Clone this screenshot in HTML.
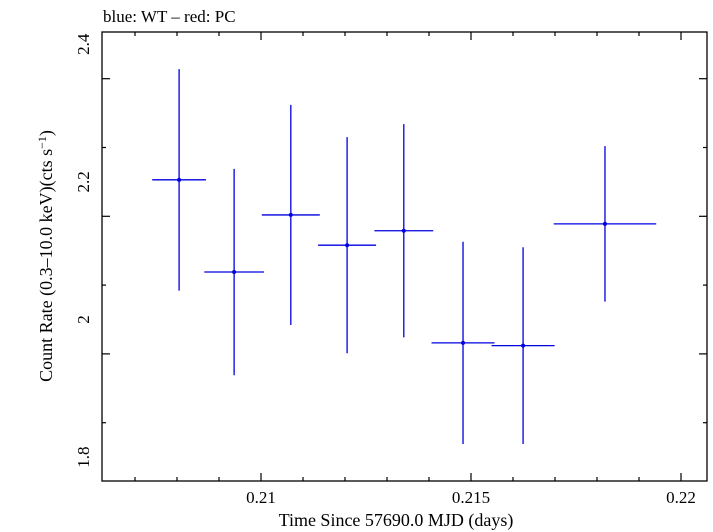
<!DOCTYPE html>
<html><head><meta charset="utf-8"><style>
body{margin:0;background:#fff;}
svg{display:block;font-family:"Liberation Serif",serif;}
</style></head><body>
<svg id="c" width="713" height="532">
<text x="103" y="22" font-size="17">blue: WT – red: PC</text>
<rect x="102" y="32" width="605" height="449" fill="none" stroke="#000" stroke-width="1.3"/>
<g id="ax"></g><g id="pts"></g>
<text x="396" y="526" font-size="18" text-anchor="middle">Time Since 57690.0 MJD (days)</text>
<text transform="translate(52,256) rotate(-90)" font-size="18" text-anchor="middle">Count Rate (0.3–10.0 keV)(cts s<tspan dy="-6" font-size="12">−1</tspan><tspan dy="6">)</tspan></text>
</svg>
<script>
const times=[0.20805,0.20936,0.21071,0.21205,0.2134,0.21481,0.21624,0.21819];
const halfWidths=[0.00064,0.00071,0.00069,0.00069,0.0007,0.00075,0.00075,0.00122];
const rates=[2.203,2.069,2.152,2.108,2.129,1.966,1.962,2.139];
const rateErrs=[0.161,0.150,0.160,0.157,0.155,0.147,0.143,0.113];
const xTicks=[0.21,0.215,0.22];
const xTickLabels=["0.21","0.215","0.22"];
const yTicks=[1.8,2,2.2,2.4];
const yTickLabels=["1.8","2","2.2","2.4"];
const L=102,R=707,T=32,B=481;
const X=t=>261+(t-0.21)/0.005*210;
const Y=v=>319.5-(v-2)*688;
const NS="http://www.w3.org/2000/svg";
function mk(p,tag,a){const e=document.createElementNS(NS,tag);for(const k in a)e.setAttribute(k,a[k]);p.appendChild(e);return e;}
const ax=document.getElementById('ax');
for(let i=-6;i<=12;i++){const t=0.21+i*0.001;const x=X(t);if(x<L+1||x>R-1)continue;
 const major=Math.abs(i%5)===0;const len=major?8:4;
 const a=mk(ax,'line',{x1:x,x2:x,y1:B,y2:B-len,stroke:'#000','stroke-width':1.2});
 
 
 const b=mk(ax,'line',{x1:x,x2:x,y1:T,y2:T+len,stroke:'#000','stroke-width':1.2});
 
 }
xTicks.forEach((t,i)=>{const e=mk(ax,'text',{x:X(t),y:503,'font-size':17,'text-anchor':'middle'});e.textContent=xTickLabels[i];
 
 });
for(let i=0;i<=7;i++){const v=1.75+i*0.1;const y=Y(v);if(y<T+1||y>B-1)continue;
 const major=Math.abs(Math.round(v*10)%2)===0;const len=major?8:4;
 const a=mk(ax,'line',{x1:L,x2:L+len,y1:y,y2:y,stroke:'#000','stroke-width':1.2});
 
 
 const b=mk(ax,'line',{x1:R,x2:R-len,y1:y,y2:y,stroke:'#000','stroke-width':1.2});
 
 }
yTicks.forEach((v,i)=>{const e=mk(ax,'text',{transform:`translate(89,${Y(v)}) rotate(-90)`,'font-size':17,'text-anchor':'middle'});e.textContent=yTickLabels[i];
 
 });
const pts=document.getElementById('pts');
times.forEach((t,i)=>{const g=mk(pts,'g',{});
 
 
 mk(g,'line',{x1:X(t-halfWidths[i]),x2:X(t+halfWidths[i]),y1:Y(rates[i]),y2:Y(rates[i]),stroke:'#0000e0','stroke-width':1.3});
 mk(g,'line',{x1:X(t),x2:X(t),y1:Y(rates[i]-rateErrs[i]),y2:Y(rates[i]+rateErrs[i]),stroke:'#0000e0','stroke-width':1.3});
 mk(g,'circle',{cx:X(t),cy:Y(rates[i]),r:2,fill:'#0000e0'});});
</script>
</body></html>
